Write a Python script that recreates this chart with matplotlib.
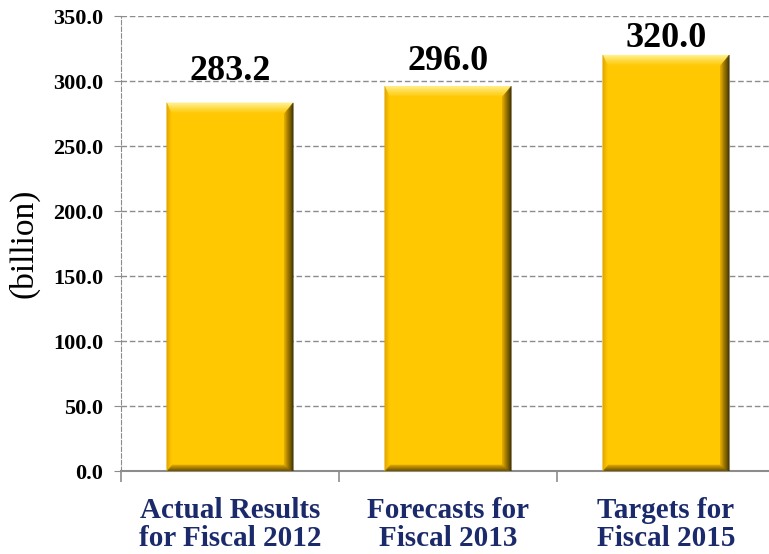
import matplotlib.pyplot as plt
from matplotlib.patches import Polygon
import numpy as np

categories = ['Actual Results\nfor Fiscal 2012', 'Forecasts for\nFiscal 2013', 'Targets for\nFiscal 2015']
values = [283.2, 296.0, 320.0]
yticks = [0, 50, 100, 150, 200, 250, 300, 350]
label_offsets = [16.5, 11.5, 5.8]  # pt above each bar top

plt.rcParams['font.family'] = ['Liberation Serif', 'DejaVu Serif']

fig = plt.figure(figsize=(7.69, 5.54), dpi=100)
ax = fig.add_axes([0.1573, 0.1498, 0.8505, 0.8213])

x = np.arange(len(categories))
width = 0.58
bars = ax.bar(x, values, width=width, color='#FFC800', zorder=3)

ax.set_xlim(-0.5, 2.5)
ax.set_ylim(0, 350)

# pixel size in data units
px_x = 3 / (0.8505 * 769)
px_y = 350 / (0.8213 * 554)

# bevel widths in px: left, right, top, bottom
bev = {'left': 5, 'right': 9, 'top': 11, 'bottom': 6}
bev_col = {
    'top': ('#FFF39A', '#FFC800'),
    'right': ('#2E2300', '#E6AE00'),
    'left': ('#E0A400', '#FFC800'),
    'bottom': ('#5E4600', '#D6A000'),
}


def blend(c1, c2, t):
    c1 = np.array(plt.matplotlib.colors.to_rgb(c1))
    c2 = np.array(plt.matplotlib.colors.to_rgb(c2))
    return tuple(c1 + (c2 - c1) * t)


def bevel(x0, x1, y0, y1):
    n = 10
    l, r = bev['left'] * px_x, bev['right'] * px_x
    t, b = bev['top'] * px_y, bev['bottom'] * px_y
    for i in range(n):
        s0, s1 = i / n, (i + 1) / n
        # outer and inner rectangles of this strip
        o = (x0 + l * s0, x1 - r * s0, y0 + b * s0, y1 - t * s0)
        q = (x0 + l * s1, x1 - r * s1, y0 + b * s1, y1 - t * s1)
        polys = {
            'top': [(o[0], o[3]), (o[1], o[3]), (q[1], q[3]), (q[0], q[3])],
            'bottom': [(o[0], o[2]), (o[1], o[2]), (q[1], q[2]), (q[0], q[2])],
            'left': [(o[0], o[2]), (o[0], o[3]), (q[0], q[3]), (q[0], q[2])],
            'right': [(o[1], o[2]), (o[1], o[3]), (q[1], q[3]), (q[1], q[2])],
        }
        sm = (s0 + s1) / 2
        for side in ['top', 'bottom', 'left', 'right']:
            c = blend(bev_col[side][0], bev_col[side][1], sm)
            ax.add_patch(Polygon(polys[side], closed=True, facecolor=c,
                                 edgecolor=c, linewidth=0.3, zorder=4))


for rect, v, off in zip(bars, values, label_offsets):
    x0 = rect.get_x()
    x1 = x0 + rect.get_width()
    bevel(x0, x1, 0, rect.get_height())
    ax.annotate(f'{v:.1f}', (x0 + rect.get_width() / 2, v), xytext=(0, off),
                textcoords='offset points', ha='center', va='baseline',
                fontsize=26, fontweight='bold', color='black')

ax.set_yticks(yticks)
ax.set_yticklabels([f'{t:.1f}' for t in yticks], fontsize=16, fontweight='bold')
ax.set_xticks(x)
ax.set_xticklabels(categories, fontsize=21, fontweight='bold', color='#1B2A6B',
                   linespacing=1.05)
ax.tick_params(axis='x', length=0, pad=19)
ax.set_xticks([-0.5, 0.5, 1.5], minor=True)
ax.tick_params(axis='x', which='minor', length=8, width=1.2, color='#8C8C8C', direction='out')
ax.tick_params(axis='y', length=5, color='#8C8C8C', pad=8)

ax.set_ylabel('(billion)', fontsize=24)
ax.yaxis.set_label_coords(-0.124, 0.5)

ax.yaxis.grid(True, linestyle=(0, (4, 2)), color='#8C8C8C', linewidth=1, zorder=0)
ax.set_axisbelow(True)
ax.spines['left'].set_linestyle((0, (4, 2)))
ax.spines['left'].set_color('#8C8C8C')
ax.spines['top'].set_visible(False)
ax.spines['right'].set_visible(False)
ax.spines['bottom'].set_color('#8C8C8C')
ax.spines['bottom'].set_linewidth(1.5)

fig.savefig('out.png', dpi=100)
